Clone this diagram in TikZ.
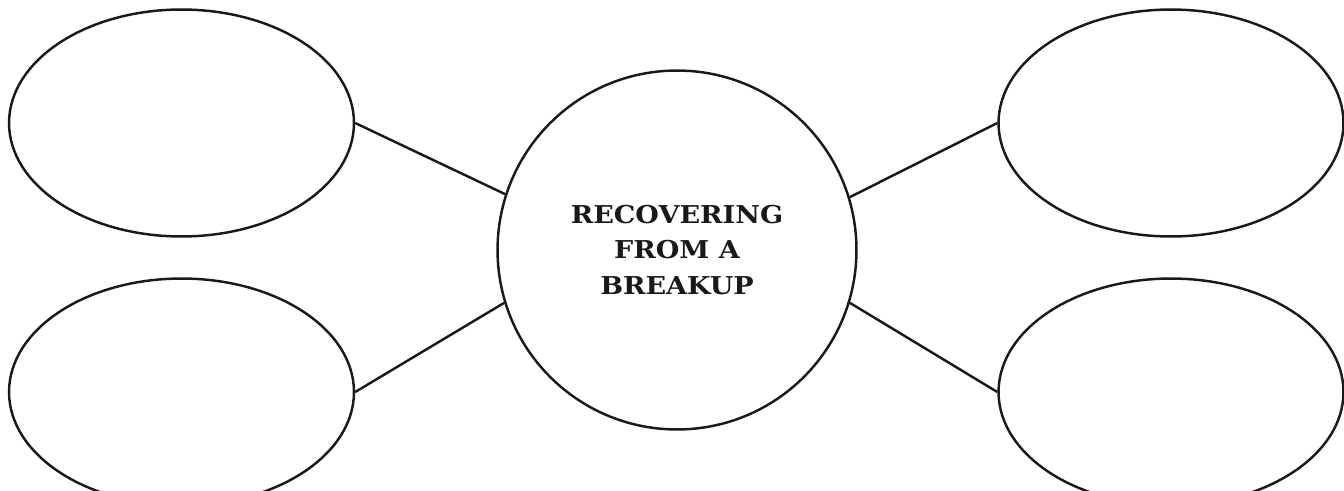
\documentclass[tikz,border=0pt]{standalone}
\usepackage{fontspec}
\usepackage{tikz}
\usetikzlibrary{shapes.geometric}
\newfontfamily\hubfont{DejaVu Serif}[FakeStretch=1.1]

\begin{document}
\begin{tikzpicture}[x=0.02cm,y=-0.02cm,line width=1.4pt,
  every node/.style={inner sep=0pt,draw=black!90,line width=1.4pt},
  blob/.style={ellipse,minimum width=6.9cm,minimum height=4.54cm},
  hub/.style={circle,minimum size=7.18cm,align=center,
    font=\hubfont\bfseries\fontsize{14}{20}\selectfont,text=black!90}]
\useasboundingbox (0,0) rectangle (1344,490);
\clip (0,0) rectangle (1344,490);
\node [hub] (hub) at (677,250) {RECOVERING\\FROM A\\BREAKUP};
\node [blob] (tl) at (181.5,123) {};
\node [blob] (bl) at (181.5,392) {};
\node [blob] (tr) at (1171,123) {};
\node [blob] (br) at (1171,392) {};
\draw [black!90] (tl.east) -- (hub.162.5);
\draw [black!90] (bl.east) -- (hub.197.5);
\draw [black!90] (tr.west) -- (hub.17.5);
\draw [black!90] (br.west) -- (hub.-17.5);
\end{tikzpicture}
\end{document}
